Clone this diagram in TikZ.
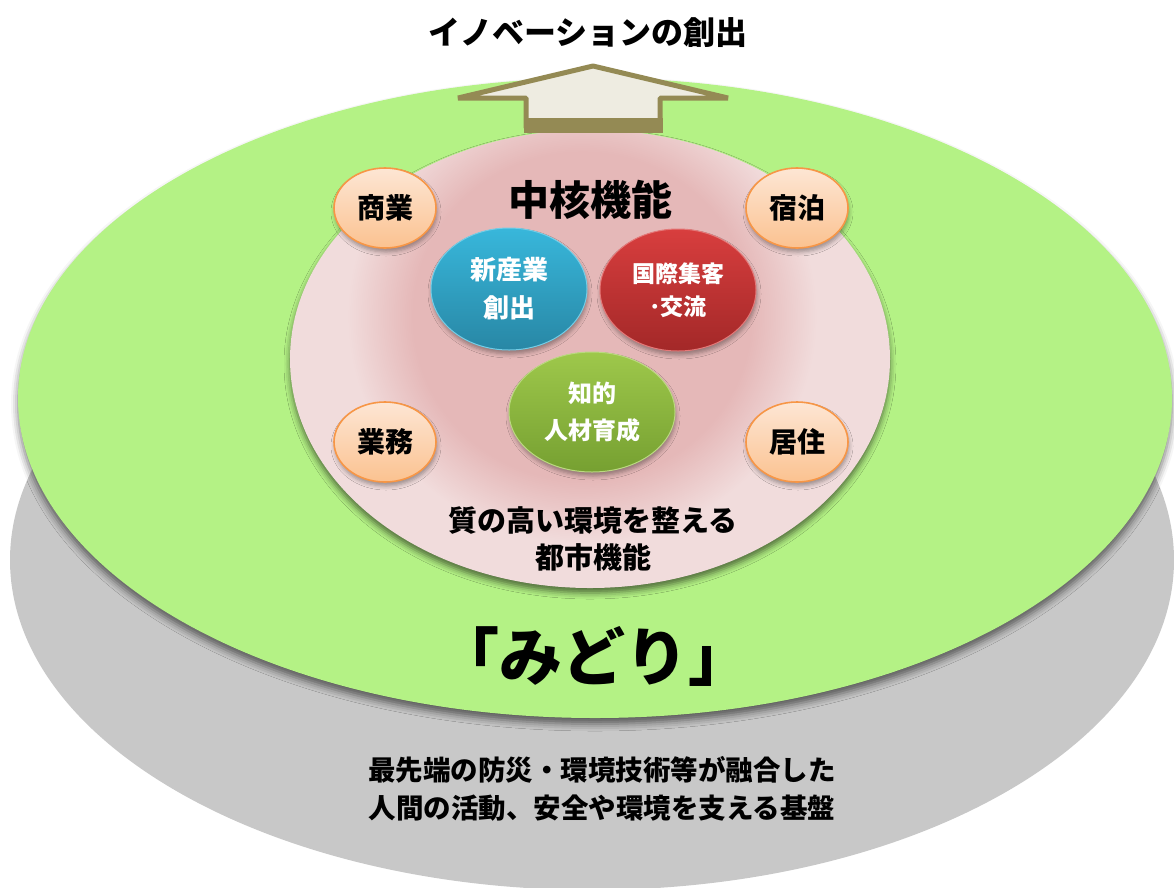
\documentclass[tikz,border=0pt]{standalone}
\usepackage{fontspec}
\setmainfont{Noto Sans CJK JP}
\usetikzlibrary{shapes.geometric, shadows.blur, positioning}

\definecolor{basegray}{HTML}{C8C8C8}
\definecolor{midori}{HTML}{B4F285}
\definecolor{corelight}{HTML}{F1DCDC}
\definecolor{coredark}{HTML}{E5B8B8}
\definecolor{arrowline}{HTML}{948A54}
\definecolor{arrowfill}{HTML}{EEECE1}
\definecolor{subline}{HTML}{F79646}
\definecolor{subtop}{HTML}{FDE6D4}
\definecolor{subbot}{HTML}{FBC290}
\definecolor{bluetop}{HTML}{38B7DB}
\definecolor{bluebot}{HTML}{2887A5}
\definecolor{redtop}{HTML}{D83E3E}
\definecolor{redbot}{HTML}{A32828}
\definecolor{greentop}{HTML}{9EC84B}
\definecolor{greenbot}{HTML}{76A031}

\pgfdeclareradialshading{coreglow}{\pgfpointorigin}{color(0bp)=(coredark); color(18bp)=(coredark); color(25bp)=(corelight); color(50bp)=(corelight)}

\tikzset{
  jp/.style={font=\bfseries\fontsize{#1}{#1}\selectfont},
  subnode/.style={ellipse, draw=subline, line width=1.6pt, top color=subtop, bottom color=subbot,
    minimum width=102pt, minimum height=80pt, inner sep=0pt,
    font=\bfseries\fontsize{28}{30}\selectfont,
    blur shadow={shadow blur radius=4pt, shadow xshift=1pt, shadow yshift=-4pt, shadow opacity=35}},
  corenode/.style={ellipse, draw=#1top!70!white, line width=1pt, top color=#1top, bottom color=#1bot,
    minimum width=156pt, minimum height=122pt, inner sep=0pt, text=white, align=center,
    blur shadow={shadow blur radius=4pt, shadow xshift=1pt, shadow yshift=-4pt, shadow opacity=35}},
}

\begin{document}
\begin{tikzpicture}[x=1pt, y=-1pt]
\useasboundingbox (0,0) rectangle (1174,887);

% base layer and midori layer
\fill[basegray] (592,560) ellipse [x radius=582pt, y radius=330pt];
\fill[midori, blur shadow={shadow blur radius=7pt, shadow xshift=0pt, shadow yshift=-6pt, shadow opacity=55}]
  (595,398) ellipse [x radius=577pt, y radius=320pt];

% urban functions and core glow
\fill[corelight, blur shadow={shadow blur radius=6pt, shadow xshift=0pt, shadow yshift=-5pt, shadow opacity=55}]
  (590,359) ellipse [x radius=300pt, y radius=229pt];
\begin{scope}
  \clip (590,359) ellipse [x radius=300pt, y radius=229pt];
  \shade[shading=coreglow] (582,316) ellipse [x radius=235pt, y radius=228pt];
\end{scope}

% arrow
\draw[arrowline, fill=arrowfill, line width=5pt, line join=bevel]
  (593,66) -- (728,98) -- (660,98) -- (660,128) -- (526,128) -- (526,98) -- (458,98) -- cycle;
\fill[arrowline] (523.5,118) rectangle (662.5,133);
\node[jp=32] (title) at (588,33) {イノベーションの創出};

% core functions
\node[jp=41] (core) at (590,200) {中核機能};
\node[corenode=blue, font=\bfseries\fontsize{26}{38}\selectfont] (shinsangyo) at (509,289) {新産業\\創出};
\node[corenode=red, font=\bfseries\fontsize{23}{33}\selectfont] (kokusai) at (678,290) {国際集客\\･交流};
\node[corenode=green, minimum width=166pt, minimum height=120pt, font=\bfseries\fontsize{24}{37}\selectfont] (chiteki) at (592,412) {知的\\人材育成};

% surrounding functions
\node[subnode] (shogyo) at (385,208) {商業};
\node[subnode] (shukuhaku) at (797,208) {宿泊};
\node[subnode] (gyomu) at (385,442) {業務};
\node[subnode] (kyoju) at (797,442) {居住};

\node[align=center, font=\bfseries\fontsize{29}{37}\selectfont] (toshi) at (593,539) {質の高い環境を整える\\都市機能};
\node[jp=63] (midoritext) at (594,656) {「みどり」};
\node[align=center, font=\bfseries\fontsize{27.5}{38}\selectfont] (kiban) at (602,789)
  {最先端の防災・環境技術等が融合した\\人間の活動、安全や環境を支える基盤};
\end{tikzpicture}
\end{document}
